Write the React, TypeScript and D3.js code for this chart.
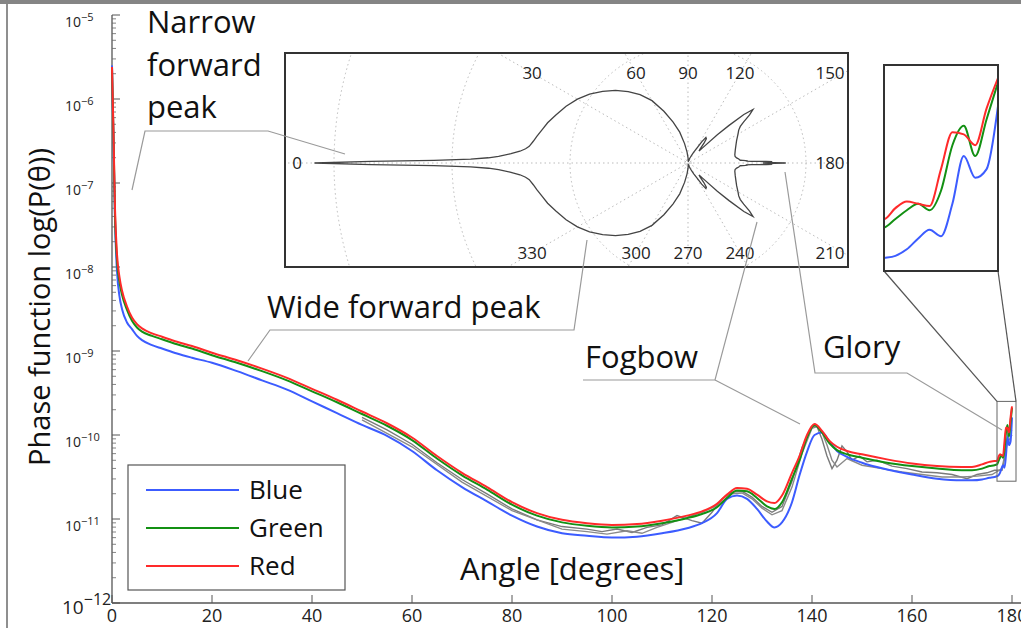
import React from 'react';
import * as d3 from 'd3';

// scattering angle samples (degrees) shared by the three colour channels
const angles = [0, 0.3, 0.6, 1, 1.5, 2, 3, 4, 5, 6, 8, 10, 13, 16, 20, 25, 30, 35, 40, 45,
  50, 55, 60, 65, 70, 75, 80, 85, 90, 95, 100, 105, 110, 115, 118, 121, 123, 125, 127, 129,
  131, 132.5, 134, 136, 137.5, 139, 140.5, 142, 143.5, 145, 147, 150, 155, 160, 165, 170, 172, 174, 175.5, 176.5,
  177, 177.3, 177.6, 177.9, 178.2, 178.5, 178.8, 179.1, 179.4, 179.7, 180];

// log10 of the phase function
const redLog = [-5.62, -6.4, -7.3, -7.85, -8.12, -8.28, -8.47, -8.6, -8.68, -8.73,
  -8.79, -8.83, -8.89, -8.94, -9.02, -9.11, -9.21, -9.32, -9.45, -9.58,
  -9.72, -9.86, -10.03, -10.25, -10.45, -10.62, -10.8, -10.93, -11.01, -11.05,
  -11.07, -11.06, -11.02, -10.96, -10.91, -10.82, -10.71, -10.63, -10.64, -10.71,
  -10.79, -10.81, -10.72, -10.45, -10.25, -10.0, -9.87, -9.95, -10.07, -10.14,
  -10.19, -10.23, -10.29, -10.34, -10.37, -10.38, -10.38, -10.35, -10.32, -10.31,
  -10.31, -10.26, -10.23, -10.24, -10.25, -10.08, -9.91, -9.92, -9.97, -9.8,
  -9.66];

const greenLog = [-5.62, -6.45, -7.38, -7.92, -8.18, -8.33, -8.51, -8.64, -8.72, -8.77,
  -8.82, -8.86, -8.92, -8.97, -9.05, -9.14, -9.24, -9.35, -9.48, -9.61,
  -9.75, -9.89, -10.06, -10.28, -10.48, -10.65, -10.83, -10.96, -11.04, -11.08,
  -11.1, -11.09, -11.05, -10.99, -10.94, -10.86, -10.75, -10.66, -10.67, -10.75,
  -10.85, -10.88, -10.8, -10.52, -10.3, -10.03, -9.88, -9.97, -10.1, -10.18,
  -10.23, -10.27, -10.33, -10.37, -10.4, -10.42, -10.42, -10.4, -10.37, -10.36,
  -10.35, -10.31, -10.27, -10.24, -10.27, -10.18, -9.97, -9.88, -10.02, -9.85,
  -9.68];

const blueLog = [-5.6, -6.5, -7.45, -8.05, -8.35, -8.5, -8.66, -8.74, -8.82, -8.87,
  -8.93, -8.97, -9.03, -9.08, -9.14, -9.24, -9.35, -9.46, -9.6, -9.74,
  -9.88, -10.01, -10.19, -10.42, -10.62, -10.79, -10.96, -11.09, -11.17, -11.2,
  -11.22, -11.21, -11.17, -11.11, -11.05, -10.93, -10.76, -10.72, -10.76, -10.88,
  -11.03, -11.1, -11.04, -10.8, -10.48, -10.2, -10.0, -9.97, -10.08, -10.19,
  -10.26, -10.33, -10.41, -10.47, -10.52, -10.54, -10.54, -10.53, -10.51, -10.5,
  -10.49, -10.48, -10.45, -10.4, -10.36, -10.39, -10.24, -10.02, -10.12, -10.08,
  -9.79];

// grey (measured) curves, no legend entry
const grayAAngles = [50, 55, 60, 65, 70, 75, 80, 85, 90, 95, 98, 101, 104, 107, 110, 113, 116, 118, 120, 122,
  124, 126, 128, 130, 132, 134, 136, 138, 140, 141, 142, 143, 144, 145, 146, 147, 148, 149.5, 151, 153,
  156, 159, 162, 165, 168, 171, 173, 175, 176.5, 178, 178.8, 179.3, 180];
const grayALog = [-9.79, -9.94, -10.11, -10.33, -10.53, -10.7, -10.88, -11.01, -11.09, -11.12, -11.15, -11.12, -11.16, -11.1, -11.07, -10.96, -11.02, -11.05, -10.92, -10.76,
  -10.68, -10.67, -10.74, -10.85, -10.92, -10.85, -10.55, -10.15, -9.9, -9.9, -10.05, -10.25, -10.4, -10.3, -10.13, -10.2, -10.3, -10.25, -10.32, -10.3,
  -10.37, -10.4, -10.44, -10.45, -10.47, -10.52, -10.47, -10.45, -10.42, -10.42, -10.2, -9.92, -9.95];

const grayBAngles = [50, 60, 70, 80, 90, 95, 99, 103, 106, 109, 112, 115, 118, 121, 124, 126, 128, 130, 132, 134,
  136, 138, 140, 141, 142, 143, 144, 145, 147, 150, 154, 158, 162, 166, 170, 173, 176, 178, 179, 180];
const grayBLog = [-9.82, -10.14, -10.56, -10.9, -11.12, -11.15, -11.18, -11.14, -11.17, -11.1, -11.04, -10.98, -10.92, -10.84, -10.7, -10.69, -10.76, -10.87, -10.95, -10.9,
  -10.62, -10.22, -9.92, -9.9, -9.97, -10.12, -10.3, -10.38, -10.28, -10.36, -10.4, -10.44, -10.47, -10.5, -10.5, -10.49, -10.47, -10.4, -10.1, -10.0];

const xTicks = [0, 20, 40, 60, 80, 100, 120, 140, 160, 180];
const yExponents = [-5, -6, -7, -8, -9, -10, -11];
const polarAngleLabels = [0, 30, 60, 90, 120, 150, 180, 210, 240, 270, 300, 330];
const polarRings = [4, 8, 12, 16]; // ln(P / Pfloor)
const polarFloor = -11.12; // log10 of the polar plot's zero radius

const legendItems = [
  { name: 'Blue', color: '#3c5cff' },
  { name: 'Green', color: '#139013' },
  { name: 'Red', color: '#ff2a2a' },
];

const FONT = "'Open Sans', 'Noto Sans', sans-serif";

const App = () => {
  const x = d3.scaleLinear().domain([0, 180]).range([112, 1012]);
  const y = d3.scaleLog().domain([1e-12, 1e-5]).range([603, 15]);

  const makeLine = (xs, xScale, yScale, curve = d3.curveMonotoneX) =>
    d3.line().x((_, i) => xScale(xs[i])).y(v => yScale(Math.pow(10, v))).curve(curve);

  const mainLine = makeLine(angles, x, y);
  const grayALine = makeLine(grayAAngles, x, y, d3.curveLinear);
  const grayBLine = makeLine(grayBAngles, x, y, d3.curveLinear);

  // minor log ticks
  const minorTicks = [];
  for (let e = -12; e < -5; e++) {
    for (let m = 2; m <= 9; m++) minorTicks.push(m * Math.pow(10, e));
  }

  // polar inset
  const pBox = { x0: 285, y0: 53, x1: 848, y1: 267 };
  const pc = { x: 688, y: 163 };
  const rScale = d3.scaleLinear().domain([0, 16]).range([0, 472]);
  const rOf = v => rScale(Math.max(0, (v - polarFloor) * Math.LN10));
  const polarPts = angles.map((a, i) => [a, greenLog[i]]);
  const mirrored = polarPts.slice().reverse().map(([a, v]) => [360 - a, v]);
  const polarPath = d3.lineRadial()
    .angle(d => ((d[0] - 90) * Math.PI) / 180)
    .radius(d => rOf(d[1]))
    .curve(d3.curveLinear)([...polarPts, ...mirrored]);
  const labelBox = { x0: 297, x1: 845, y0: 73, y1: 253 };
  const polarLabelPos = a => {
    const t = (a * Math.PI) / 180;
    const dx = -Math.cos(t), dy = -Math.sin(t);
    const cands = [];
    if (dx > 1e-6) cands.push((labelBox.x1 - pc.x) / dx);
    if (dx < -1e-6) cands.push((labelBox.x0 - pc.x) / dx);
    if (dy < -1e-6) cands.push((labelBox.y0 - pc.y) / dy);
    if (dy > 1e-6) cands.push((labelBox.y1 - pc.y) / dy);
    const s = Math.min(...cands);
    return [Math.min(830, pc.x + s * dx), pc.y + s * dy];
  };

  // zoom inset on the glory
  const zBox = { x0: 884, y0: 65, x1: 998, y1: 271 };
  const zx = d3.scaleLinear().domain([177, 180]).range([zBox.x0, zBox.x1]);
  const zy = d3.scaleLog().domain([Math.pow(10, -10.55), Math.pow(10, -9.6)]).range([zBox.y1, zBox.y0]);
  const zoomLine = makeLine(angles, zx, zy);
  const zr = { x0: x(177), x1: x(180) + 4, y0: y(Math.pow(10, -9.6)), y1: y(Math.pow(10, -10.55)) };

  const series = [
    { vals: blueLog, color: legendItems[0].color },
    { vals: greenLog, color: legendItems[1].color },
    { vals: redLog, color: legendItems[2].color },
  ];

  const leader = '#9a9a9a';
  const pts = arr => arr.map(p => p.join(',')).join(' ');

  return (
    <svg width={1021} height={628} style={{ position: 'absolute', left: 0, top: 0, background: '#fff' }} fontFamily={FONT}>
      <defs>
        <clipPath id="polarClip"><rect x={pBox.x0} y={pBox.y0} width={pBox.x1 - pBox.x0} height={pBox.y1 - pBox.y0} /></clipPath>
        <clipPath id="zoomClip"><rect x={zBox.x0} y={zBox.y0} width={zBox.x1 - zBox.x0} height={zBox.y1 - zBox.y0} /></clipPath>
      </defs>

      {/* page frame */}
      <rect x={0} y={0} width={1021} height={4} fill="#858585" />
      <line x1={7} x2={7} y1={4} y2={628} stroke="#6a6a6a" strokeWidth={1.5} />

      {/* axes */}
      <line x1={112} x2={112} y1={15} y2={603} stroke="#555" strokeWidth={1.3} />
      <line x1={112} x2={1021} y1={603} y2={603} stroke="#555" strokeWidth={1.3} />
      {yExponents.concat([-12]).map(e => (
        <line key={'M' + e} x1={112} x2={120} y1={y(Math.pow(10, e))} y2={y(Math.pow(10, e))} stroke="#555" />
      ))}
      {minorTicks.map((v, i) => (
        <line key={'m' + i} x1={112} x2={116} y1={y(v)} y2={y(v)} stroke="#666" strokeWidth={0.8} />
      ))}
      {xTicks.map(t => (
        <g key={'x' + t}>
          <line x1={x(t)} x2={x(t)} y1={603} y2={595} stroke="#555" />
          <text x={x(t)} y={622} fontSize={18} textAnchor="middle" fill="#222">{t}</text>
        </g>
      ))}
      {yExponents.map(e => (
        <text key={'yl' + e} x={65} y={y(Math.pow(10, e)) + 12} fontSize={14} fill="#222">
          10<tspan dy={-6} fontSize={11}>{'\u2212' + -e}</tspan>
        </text>
      ))}
      <text x={62} y={y(1e-12) + 11} fontSize={19} fill="#222">
        10<tspan dy={-9} fontSize={16}>{'\u221212'}</tspan>
      </text>

      <text transform="translate(50,307) rotate(-90)" textAnchor="middle" fontSize={29} fill="#111">
        Phase function log(P(θ))
      </text>
      <text x={460} y={580} fontSize={31} fill="#111">Angle [degrees]</text>

      {/* curves */}
      <path d={grayALine(grayALog)} fill="none" stroke="#7a7a7a" strokeWidth={1.4} />
      <path d={grayBLine(grayBLog)} fill="none" stroke="#8a8a8a" strokeWidth={1.4} />
      {series.map((s, i) => (
        <path key={i} d={mainLine(s.vals)} fill="none" stroke={s.color} strokeWidth={2} />
      ))}

      {/* legend */}
      <rect x={128} y={465} width={217} height={125} fill="#fff" stroke="#555" strokeWidth={1.2} />
      {legendItems.map((it, i) => (
        <g key={it.name}>
          <line x1={146} x2={239} y1={490 + i * 38} y2={490 + i * 38} stroke={it.color} strokeWidth={2} />
          <text x={249} y={499 + i * 38} fontSize={26} fill="#111">{it.name}</text>
        </g>
      ))}

      {/* polar inset */}
      <rect x={pBox.x0} y={pBox.y0} width={pBox.x1 - pBox.x0} height={pBox.y1 - pBox.y0} fill="#fff" />
      <g clipPath="url(#polarClip)">
        {polarRings.map(r => (
          <circle key={r} cx={pc.x} cy={pc.y} r={rScale(r)} fill="none" stroke="#bbb" strokeDasharray="1.5,3" />
        ))}
        <circle cx={pc.x} cy={pc.y} r={3} fill="none" stroke="#aaa" strokeDasharray="1,1.5" />
        {d3.range(0, 180, 30).map(a => {
          const t = (a * Math.PI) / 180;
          const R = rScale(16);
          return (
            <line key={a} x1={pc.x - R * Math.cos(t)} y1={pc.y - R * Math.sin(t)} x2={pc.x + R * Math.cos(t)} y2={pc.y + R * Math.sin(t)}
              stroke="#bbb" strokeDasharray="1.5,3" />
          );
        })}
        <path d={polarPath} transform={`translate(${pc.x},${pc.y})`} fill="none" stroke="#444" strokeWidth={1.3} />
      </g>
      {polarAngleLabels.map(a => {
        const [lx, ly] = polarLabelPos(a);
        return (
          <text key={a} x={lx} y={ly + 6} fontSize={17} textAnchor="middle" fill="#222">{a}</text>
        );
      })}
      <rect x={pBox.x0} y={pBox.y0} width={pBox.x1 - pBox.x0} height={pBox.y1 - pBox.y0} fill="none" stroke="#333" strokeWidth={2} />

      {/* glory zoom inset */}
      <rect x={zr.x0} y={zr.y0} width={zr.x1 - zr.x0} height={zr.y1 - zr.y0} fill="none" stroke="#666" strokeWidth={1} />
      <line x1={zBox.x0} y1={zBox.y1} x2={zr.x0} y2={zr.y0} stroke="#555" strokeWidth={1.2} />
      <line x1={zBox.x1} y1={zBox.y1} x2={zr.x1} y2={zr.y0} stroke="#555" strokeWidth={1.2} />
      <rect x={zBox.x0} y={zBox.y0} width={zBox.x1 - zBox.x0} height={zBox.y1 - zBox.y0} fill="#fff" />
      <g clipPath="url(#zoomClip)">
        {series.map((s, i) => (
          <path key={i} d={zoomLine(s.vals)} fill="none" stroke={s.color} strokeWidth={2} />
        ))}
      </g>
      <rect x={zBox.x0} y={zBox.y0} width={zBox.x1 - zBox.x0} height={zBox.y1 - zBox.y0} fill="none" stroke="#333" strokeWidth={2} />

      {/* annotations */}
      <polyline points={pts([[132, 190], [145, 131], [268, 131], [345, 154]])} fill="none" stroke={leader} strokeWidth={1.2} />
      <polyline points={pts([[248, 361], [270, 330], [574, 330], [587, 240]])} fill="none" stroke={leader} strokeWidth={1.2} />
      <polyline points={pts([[757, 222], [715, 380], [583, 380]])} fill="none" stroke={leader} strokeWidth={1.2} />
      <polyline points={pts([[715, 380], [800, 424]])} fill="none" stroke={leader} strokeWidth={1.2} />
      <polyline points={pts([[785, 172], [815, 373], [907, 373], [1002, 430]])} fill="none" stroke={leader} strokeWidth={1.2} />

      <text fontSize={31} fill="#111">
        <tspan x={147} y={33}>Narrow</tspan>
        <tspan x={147} y={76}>forward</tspan>
        <tspan x={147} y={118}>peak</tspan>
      </text>
      <text x={267} y={318} fontSize={31} fill="#111">Wide forward peak</text>
      <text x={585} y={368} fontSize={31} fill="#111">Fogbow</text>
      <text x={823} y={358} fontSize={31} fill="#111">Glory</text>
    </svg>
  );
};

export default App;
